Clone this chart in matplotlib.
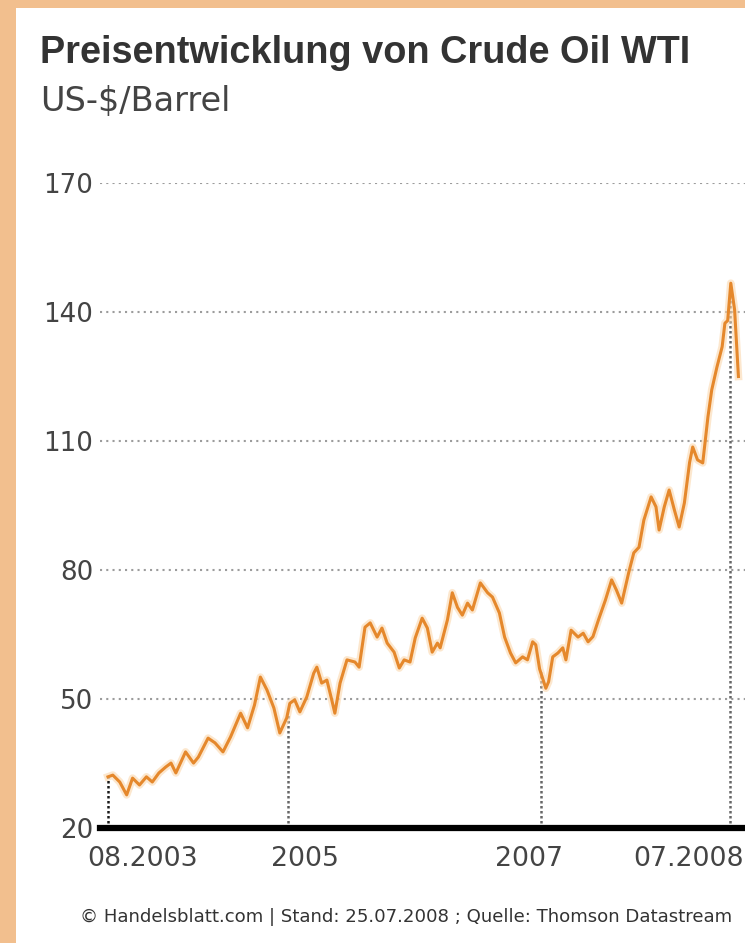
import matplotlib
matplotlib.use("Agg")
import matplotlib.pyplot as plt
import matplotlib.dates as mdates
import matplotlib.transforms as mtransforms
from matplotlib.patches import Rectangle
import numpy as np
import pandas as pd

# WTI crude oil price, US-$ per barrel
dates = [
    "2003-08-01", "2003-08-15", "2003-09-04", "2003-09-24", "2003-10-11", "2003-10-31",
    "2003-11-20", "2003-12-07", "2003-12-26", "2004-01-15", "2004-01-30", "2004-02-13",
    "2004-03-12", "2004-04-04", "2004-04-18", "2004-05-16", "2004-06-05", "2004-06-28",
    "2004-07-20", "2004-08-18", "2004-09-07", "2004-09-27", "2004-10-14", "2004-11-02",
    "2004-11-22", "2004-12-09", "2004-12-29", "2005-01-07", "2005-01-21", "2005-02-05",
    "2005-02-25", "2005-03-17", "2005-03-26", "2005-04-09", "2005-04-24", "2005-05-08",
    "2005-05-17", "2005-06-01", "2005-06-21", "2005-07-14", "2005-07-26", "2005-08-12",
    "2005-08-27", "2005-09-16", "2005-09-30", "2005-10-15", "2005-11-04", "2005-11-19",
    "2005-12-03", "2005-12-20", "2006-01-04", "2006-01-24", "2006-02-08", "2006-02-22",
    "2006-03-09", "2006-03-17", "2006-04-07", "2006-04-21", "2006-05-06", "2006-05-20",
    "2006-06-04", "2006-06-18", "2006-07-11", "2006-08-01", "2006-08-15", "2006-09-04",
    "2006-09-19", "2006-10-06", "2006-10-21", "2006-11-10", "2006-11-24", "2006-12-09",
    "2006-12-18", "2006-12-29", "2007-01-16", "2007-01-24", "2007-02-05", "2007-02-20",
    "2007-03-06", "2007-03-15", "2007-03-30", "2007-04-19", "2007-05-04", "2007-05-18",
    "2007-06-01", "2007-06-17", "2007-07-07", "2007-07-25", "2007-08-08", "2007-08-23",
    "2007-09-12", "2007-09-27", "2007-10-12", "2007-10-26", "2007-11-16", "2007-11-30",
    "2007-12-09", "2007-12-24", "2008-01-07", "2008-01-22", "2008-02-05", "2008-02-20",
    "2008-03-06", "2008-03-15", "2008-03-29", "2008-04-13", "2008-04-28", "2008-05-09",
    "2008-05-24", "2008-06-08", "2008-06-16", "2008-06-24", "2008-07-03", "2008-07-14",
    "2008-07-25",
]
prices = [
    31.9, 32.3, 30.7, 27.7, 31.6, 30.0,
    31.9, 30.7, 32.8, 34.2, 35.1, 32.8,
    37.7, 35.1, 36.5, 40.9, 39.8, 37.7,
    41.2, 46.7, 43.3, 48.6, 55.1, 52.1,
    47.9, 42.1, 45.6, 49.0, 49.8, 47.0,
    50.5, 56.0, 57.4, 53.7, 54.4, 49.8,
    46.7, 53.7, 59.1, 58.6, 57.4, 66.7,
    67.7, 64.4, 66.5, 63.0, 60.9, 57.2,
    59.1, 58.6, 64.2, 68.8, 66.5, 60.9,
    63.0, 61.9, 68.4, 74.7, 71.3, 69.5,
    72.3, 70.7, 77.0, 74.7, 73.7, 70.0,
    64.4, 60.7, 58.4, 59.8, 59.1, 63.3,
    62.6, 57.0, 52.5, 54.0, 59.8, 60.7,
    61.9, 59.1, 66.0, 64.4, 65.3, 63.3,
    64.5, 68.4, 73.0, 77.7, 75.3, 72.3,
    79.3, 84.0, 85.3, 91.6, 97.0, 94.7,
    89.3, 94.7, 98.6, 94.0, 90.0, 95.6,
    105.0, 108.6, 105.6, 104.9, 115.6, 121.9,
    127.2, 131.9, 137.4, 138.0, 146.7, 140.5,
    125.0,
]

y_ticks = [20, 50, 80, 110, 140, 170]
x_tick_dates = ["2003-08-01", "2005-01-01", "2007-01-01", "2008-07-01"]
x_tick_labels = ["08.2003", "2005", "2007", "07.2008"]

title = "Preisentwicklung von Crude Oil WTI"
subtitle = "US-$/Barrel"
footnote = "\u00a9 Handelsblatt.com | Stand: 25.07.2008 ; Quelle: Thomson Datastream"

W, H = 745, 943
fig = plt.figure(figsize=(W / 100, H / 100), dpi=100)
fig.patch.set_facecolor("#F2BF8E")
fig.add_artist(Rectangle((16 / W, 0), 1, 1 - 8 / H, transform=fig.transFigure,
                         facecolor="white", edgecolor="none", zorder=0))

ax = fig.add_axes([100 / W, (H - 828) / H, 645 / W, (828 - 183) / H])
ax.set_facecolor("none")

x = mdates.date2num(pd.to_datetime(dates))
y = np.array(prices)
tick_x = mdates.date2num(pd.to_datetime(x_tick_dates))
tick_y = np.interp(tick_x, x, y)

ax.set_xlim(mdates.date2num(pd.Timestamp("2003-07-09")),
            mdates.date2num(pd.Timestamp("2008-08-13")))
ax.set_ylim(20, 170)

# horizontal dotted grid
ax.set_yticks(y_ticks)
ax.yaxis.grid(True, color="#9c9c9c", linestyle=(0, (1, 2)), linewidth=1.5)
ax.set_axisbelow(True)

# dotted drop lines from the axis to the curve at each date mark
drop_colors = ["#1a1a1a", "#666666", "#666666", "#666666"]
ax.vlines(tick_x, 20, tick_y, colors=drop_colors, linestyles=(0, (1, 1)),
          linewidth=1.8, zorder=2)

# price line with a soft light halo
ax.plot(x, y, color="#FBD8AE", linewidth=5.5, alpha=0.6, zorder=3,
        solid_joinstyle="round")
ax.plot(x, y, color="#E5882C", linewidth=2.2, zorder=4, solid_joinstyle="round")

for side in ["top", "right", "left"]:
    ax.spines[side].set_visible(False)
ax.spines["bottom"].set_linewidth(4.5)
ax.spines["bottom"].set_color("black")
ax.spines["bottom"].set_zorder(5)

ax.set_xticks(tick_x)
ax.set_xticklabels(x_tick_labels)
ax.tick_params(axis="both", length=0)
ax.tick_params(axis="x", pad=13, labelsize=19.3, labelcolor="#444444")
ax.tick_params(axis="y", pad=5, labelsize=18.8, labelcolor="#444444")

label_shift_px = [35, 17, -12, -42]
for lab, dx in zip(ax.get_xticklabels(), label_shift_px):
    lab.set_transform(lab.get_transform()
                      + mtransforms.ScaledTranslation(dx / 100, 0, fig.dpi_scale_trans))

fig.text(40 / W, 1 - 63 / H, title, fontsize=27.3, fontweight="bold",
         family="Liberation Sans", color="#333333", va="baseline", ha="left")
fig.text(40 / W, 1 - 111 / H, subtitle, fontsize=24.2, color="#444444",
         va="baseline", ha="left")
fig.text(80 / W, 1 - 922 / H, footnote, fontsize=13.1, color="#333333",
         va="baseline", ha="left")

fig.savefig("out.png", dpi=100, facecolor=fig.get_facecolor())
